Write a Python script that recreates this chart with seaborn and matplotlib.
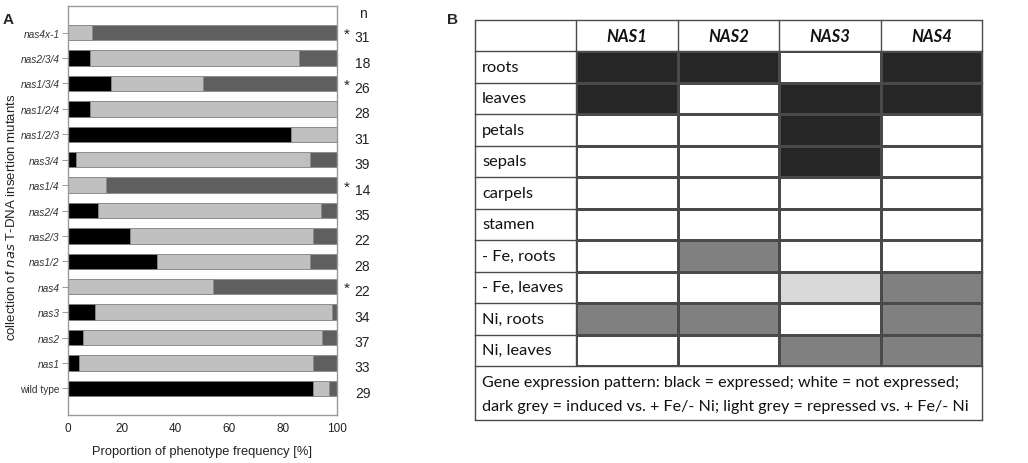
import matplotlib
matplotlib.use("Agg")
import matplotlib.pyplot as plt
import matplotlib.transforms as mtransforms
from matplotlib.colors import ListedColormap
import seaborn as sns
import pandas as pd
import numpy as np

# Panel A data: phenotype proportions (%) per line, top to bottom
lines = ['nas4x-1', 'nas2/3/4', 'nas1/3/4', 'nas1/2/4', 'nas1/2/3', 'nas3/4',
         'nas1/4', 'nas2/4', 'nas2/3', 'nas1/2', 'nas4', 'nas3', 'nas2',
         'nas1', 'wild type']
black_pct = [0, 8, 16, 8, 83, 3, 0, 11, 23, 33, 0, 10, 5.5, 4, 91]
light_pct = [9, 78, 34, 92, 17, 87, 14, 83, 68, 57, 54, 88, 89, 87, 6]
dark_pct = [91, 14, 50, 0, 0, 10, 86, 6, 9, 10, 46, 2, 5.5, 9, 3]
n_counts = [31, 18, 26, 28, 31, 39, 14, 35, 22, 28, 22, 34, 37, 33, 29]
significant = [True, False, True, False, False, False, True, False, False,
               False, True, False, False, False, False]

# Panel B data: 0 = not expressed, 1 = expressed, 2 = induced, 3 = repressed
genes = ['NAS1', 'NAS2', 'NAS3', 'NAS4']
tissues = ['roots', 'leaves', 'petals', 'sepals', 'carpels', 'stamen',
           '- Fe, roots', '- Fe, leaves', 'Ni, roots', 'Ni, leaves']
expression = [[1, 1, 0, 1],
              [1, 0, 1, 1],
              [0, 0, 1, 0],
              [0, 0, 1, 0],
              [0, 0, 0, 0],
              [0, 0, 0, 0],
              [0, 2, 0, 0],
              [0, 0, 3, 2],
              [2, 2, 0, 2],
              [0, 0, 2, 2]]
legend_lines = ['Gene expression pattern: black = expressed; white = not expressed;',
                'dark grey = induced vs. + Fe/- Ni; light grey = repressed vs. + Fe/- Ni']

sns.set_style('white')
plt.rcParams['font.family'] = ['Liberation Sans', 'DejaVu Sans']

W, H = 1028, 464
fig = plt.figure(figsize=(W / 100, H / 100), dpi=100)

# ---------------- Panel A: stacked horizontal bars ----------------
ax = fig.add_axes([68 / W, (H - 416) / H, 269 / W, 409 / H])

df = pd.DataFrame({'line': lines, 'black': black_pct,
                   'light': light_pct, 'dark': dark_pct})
df['c1'] = df['black']
df['c2'] = df['black'] + df['light']
df['c3'] = df['c2'] + df['dark']

edge = '#8a8a8a'
for col, color in [('c3', '#5f5f5f'), ('c2', '#c0c0c0'), ('c1', '#000000')]:
    sns.barplot(data=df, x=col, y='line', order=lines, orient='h',
                color=color, width=0.6, edgecolor=edge, linewidth=0.6,
                saturation=1, ax=ax)

ax.set_xlim(0, 100)
ax.set_ylim(len(lines) - 1 + 1.05, -1.05)
ax.set_xticks([0, 20, 40, 60, 80, 100])
ax.tick_params(axis='x', labelsize=8.5, length=0, pad=5, colors='#222222')
ax.tick_params(axis='y', labelsize=7.3, length=4, width=0.6, color='#888888',
               left=True, pad=2, colors='#333333')
for lab in ax.get_yticklabels():
    if lab.get_text() != 'wild type':
        lab.set_style('italic')
for s in ax.spines.values():
    s.set_color('#999999')
    s.set_linewidth(1.0)
ax.set_xlabel('Proportion of phenotype frequency [%]', fontsize=9.3,
              color='#222222', labelpad=8)
ax.set_ylabel(r'collection of $\it{nas}$ T-DNA insertion mutants',
              fontsize=9.5, color='#222222')
ax.yaxis.set_label_coords(-0.185, 0.485)

trans = mtransforms.blended_transform_factory(ax.transAxes, ax.transData)
ax.text(1.095, -0.78, 'n', transform=trans, ha='center', va='center',
        fontsize=10, color='#222222')
for i, (n, sig) in enumerate(zip(n_counts, significant)):
    ax.text(1.095, i + 0.18, str(n), transform=trans, ha='center',
            va='center', fontsize=10, color='#222222')
    if sig:
        ax.text(1.035, i + 0.05, '*', transform=trans, ha='center',
                va='center', fontsize=11, color='#222222')

fig.text(3 / W, 1 - 20 / H, 'A', fontsize=11, fontweight='bold',
         ha='left', va='center')

# ---------------- Panel B: expression table ----------------
tx0, tx1, ty0, ty1 = 475, 982, 21, 421
col_w = (tx1 - tx0) / 5
head_h = 31
row_h = 31.5
cells_top = ty0 + head_h
cells_bot = cells_top + row_h * len(tissues)

frame = fig.add_axes([tx0 / W, (H - ty1) / H, (tx1 - tx0) / W, (ty1 - ty0) / H])
frame.set_xlim(tx0, tx1)
frame.set_ylim(ty1, ty0)
frame.axis('off')

hm = fig.add_axes([(tx0 + col_w) / W, (H - cells_bot) / H,
                   (tx1 - tx0 - col_w) / W, (cells_bot - cells_top) / H])
expr_df = pd.DataFrame(expression, index=tissues, columns=genes)
cmap = ListedColormap(['#ffffff', '#262626', '#808080', '#d9d9d9'])
sns.heatmap(expr_df, ax=hm, cmap=cmap, vmin=-0.5, vmax=3.5, cbar=False,
            linewidths=1.0, linecolor='#4a4a4a',
            xticklabels=False, yticklabels=False)
hm.set_xlabel('')
hm.set_ylabel('')

lc = '#4a4a4a'
lw = 1.0
# horizontal rule lines
ys = [ty0, cells_top] + [cells_top + row_h * (k + 1) for k in range(len(tissues))] + [ty1]
for y in ys:
    frame.plot([tx0, tx1], [y, y], color=lc, lw=lw, solid_capstyle='projecting',
               clip_on=False)
# vertical lines (the footer spans the whole width)
for k in range(6):
    x = tx0 + col_w * k
    if k in (0, 5):
        frame.plot([x, x], [ty0, ty1], color=lc, lw=lw, clip_on=False)
    else:
        frame.plot([x, x], [ty0, cells_bot], color=lc, lw=lw, clip_on=False)

tab_font = ['Lato', 'DejaVu Sans']
for j, g in enumerate(genes):
    frame.text(tx0 + col_w * (j + 1.5), ty0 + head_h / 2, g, ha='center',
               va='center', fontsize=12, fontweight='bold', style='italic',
               family=tab_font, color='#111111')
for i, t in enumerate(tissues):
    frame.text(tx0 + 7, cells_top + row_h * (i + 0.5), t, ha='left',
               va='center', fontsize=11.8, family=tab_font, color='#111111')
for k, line in enumerate(legend_lines):
    frame.text(tx0 + 7, cells_bot + 16 + k * 24, line, ha='left', va='center',
               fontsize=11.6, family=tab_font, color='#111111')

fig.text(453 / W, 1 - 20 / H, 'B', fontsize=11, fontweight='bold',
         ha='center', va='center')

fig.savefig('out.png', dpi=100)
